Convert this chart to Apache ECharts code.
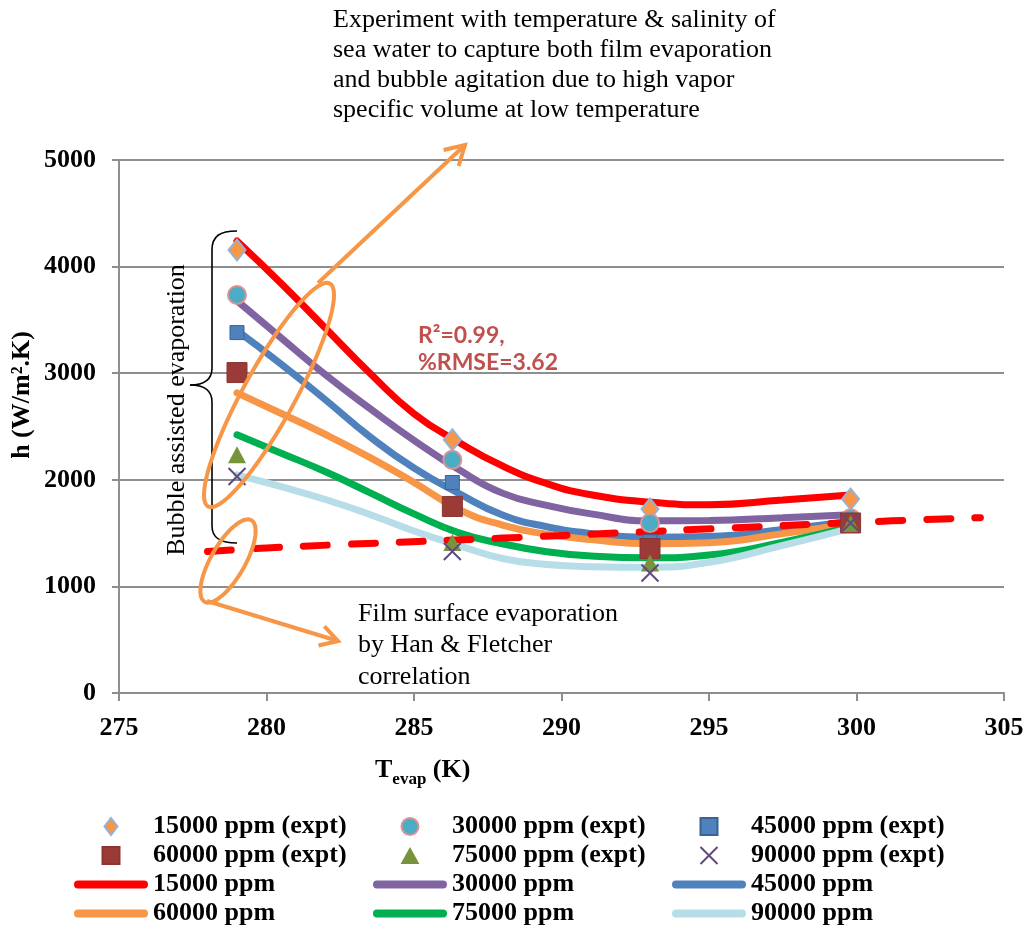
<!DOCTYPE html>
<html><head><meta charset="utf-8">
<script src="https://cdn.jsdelivr.net/npm/echarts@6/dist/echarts.min.js"></script>
<style>html,body{margin:0;padding:0;background:#fff}#c{width:1029px;height:928px}</style>
</head><body><div id="c"></div>
<script>
// ---------- data ----------
const xTicks = [275, 280, 285, 290, 295, 300, 305];
const yTicks = [0, 1000, 2000, 3000, 4000, 5000];

// experimental points
const exptT = [279, 286.3, 293, 299.8];
const expt15000 = [4156, 2375, 1725, 1820];
const expt30000 = [3734, 2187, 1594, 1640];
const expt45000 = [3381, 1975, 1420, 1610];
const expt60000 = [3006, 1750, 1355, 1595];
const expt75000 = [2234, 1412, 1219, 1590];
const expt90000 = [2031, 1328, 1125, 1595];

// model curves
const curveT = [279, 280.5, 282, 283.5, 285, 286.5, 288, 289.5, 291, 293, 295, 297.5, 299.8];
const fit15000 = [4240, 3842, 3422, 3002, 2620, 2355, 2130, 1965, 1860, 1790, 1766, 1810, 1858];
const fit30000 = [3680, 3330, 2985, 2670, 2370, 2098, 1875, 1760, 1680, 1615, 1618, 1645, 1672];
const fit45000 = [3400, 3085, 2750, 2405, 2110, 1875, 1670, 1560, 1497, 1462, 1468, 1533, 1612];
const fit60000 = [2815, 2622, 2425, 2210, 1975, 1725, 1575, 1490, 1440, 1400, 1410, 1495, 1590];
const fit75000 = [2422, 2250, 2075, 1880, 1680, 1505, 1400, 1325, 1285, 1268, 1295, 1415, 1560];
const fit90000 = [2047, 1935, 1815, 1675, 1520, 1385, 1262, 1205, 1185, 1180, 1225, 1385, 1545];

// Han & Fletcher film evaporation correlation (dashed)
const hanT = [278, 280, 282.3, 288, 291.8, 295.6, 301.2, 304.2];
const hanH = [1328, 1360, 1390, 1453, 1500, 1547, 1615, 1645];

const exptNames = ['15000 ppm (expt)', '30000 ppm (expt)', '45000 ppm (expt)', '60000 ppm (expt)', '75000 ppm (expt)', '90000 ppm (expt)'];
const fitNames = ['15000 ppm', '30000 ppm', '45000 ppm', '60000 ppm', '75000 ppm', '90000 ppm'];

// ---------- styling ----------
const SERIF = '"Liberation Serif","Times New Roman",serif';
const SANS = 'Lato,"Liberation Sans",Arial,sans-serif';
const ORANGE = '#F79646';
const pair = (xs, ys) => xs.map((x, i) => [x, ys[i]]);

const DIAMOND = 'path://M5,0L10,6.5L5,13L0,6.5Z';
const SQUARE = 'path://M0,0L10,0L10,10L0,10Z';
const TRIANGLE = 'path://M5,0L10,9L0,9Z';
const CROSS = 'path://M0,0L10,10M10,0L0,10';
const BAR = 'path://M4,0L70,0A4,4 0 0 1 70,8L4,8A4,4 0 0 1 4,0Z';

const exptData = [expt15000, expt30000, expt45000, expt60000, expt75000, expt90000];
const fitData = [fit15000, fit30000, fit45000, fit60000, fit75000, fit90000];
const fitColors = ['#FF0000', '#8064A2', '#4F81BD', '#F79646', '#00B050', '#B7DEE8'];
const exptStyles = [
  { symbol: DIAMOND, symbolSize: [17, 21], itemStyle: { color: '#F79646', borderColor: '#95B3D7', borderWidth: 2, opacity: 1 } },
  { symbol: 'circle', symbolSize: 18, itemStyle: { color: '#4BACC6', borderColor: '#D99594', borderWidth: 2, opacity: 1 } },
  { symbol: SQUARE, symbolSize: 14, itemStyle: { color: '#4F81BD', borderColor: '#3A6296', borderWidth: 1, opacity: 1 } },
  { symbol: SQUARE, symbolSize: 20, itemStyle: { color: '#9B3B38', borderColor: '#8C3532', borderWidth: 1, opacity: 1 } },
  { symbol: TRIANGLE, symbolSize: [18, 17], itemStyle: { color: '#77933C', borderWidth: 0, opacity: 1 } },
  { symbol: CROSS, symbolSize: 17, itemStyle: { color: '#604A7B', borderColor: '#604A7B', borderWidth: 2, opacity: 1 } }
];

const series = [];
fitData.forEach((ys, i) => {
  series.push({
    name: fitNames[i], type: 'line', data: pair(curveT, ys), smooth: 0.5,
    symbol: 'none', z: 2,
    lineStyle: { color: fitColors[i], width: 7, cap: 'round' },
    itemStyle: { color: fitColors[i] }
  });
});
series.push({
  name: 'Han & Fletcher', type: 'line', data: pair(hanT, hanH), smooth: 0.4,
  symbol: 'none', z: 3,
  lineStyle: { color: '#FF0000', width: 7, type: [24, 24], cap: 'round' }
});
exptData.forEach((ys, i) => {
  series.push(Object.assign({
    name: exptNames[i], type: 'scatter', data: pair(exptT, ys), z: 4
  }, exptStyles[i]));
});

const legendText = { fontFamily: SERIF, fontWeight: 'bold', fontSize: 26, color: '#000', lineHeight: 29 };
function mkLegend(left, names) {
  return {
    left: left, top: 812, orient: 'vertical', padding: 0, itemGap: 0,
    itemWidth: 74, itemHeight: 17, selectedMode: false,
    textStyle: legendText,
    data: names.map(n => fitNames.indexOf(n) >= 0 ? { name: n, icon: BAR, itemStyle: { borderWidth: 0 } } : { name: n })
  };
}

// outline points of a rotated ellipse annotation (decoration, not data)
function ellipsePts(cx, cy, a, b, rot) {
  const pts = [];
  for (let k = 0; k < 72; k++) {
    const t = k / 72 * Math.PI * 2;
    const ex = a * Math.cos(t), ey = b * Math.sin(t);
    pts.push([cx + ex * Math.cos(rot) - ey * Math.sin(rot), cy + ex * Math.sin(rot) + ey * Math.cos(rot)]);
  }
  return pts;
}
const annoLine = { stroke: ORANGE, lineWidth: 4, fill: null };

const chart = echarts.init(document.getElementById('c'), null, { renderer: 'canvas' });
chart.setOption({
  animation: false,
  backgroundColor: '#fff',
  grid: { left: 119, right: 25, top: 160, bottom: 235, containLabel: false, outerBoundsMode: 'none' },
  xAxis: {
    type: 'value', min: xTicks[0], max: xTicks[xTicks.length - 1], interval: 5,
    axisLine: { show: true, lineStyle: { color: '#8E8E8E', width: 2 } },
    axisTick: { show: true, length: 8, lineStyle: { color: '#8E8E8E', width: 2 } },
    axisLabel: { margin: 22, fontFamily: SERIF, fontWeight: 'bold', fontSize: 26, color: '#000', formatter: v => String(v) },
    splitLine: { show: false }
  },
  yAxis: {
    type: 'value', min: yTicks[0], max: yTicks[yTicks.length - 1], interval: 1000,
    axisLine: { show: true, lineStyle: { color: '#8E8E8E', width: 2 } },
    axisTick: { show: true, length: 7, lineStyle: { color: '#8E8E8E', width: 2 } },
    axisLabel: { margin: 23, fontFamily: SERIF, fontWeight: 'bold', fontSize: 26, color: '#000', formatter: v => String(v) },
    splitLine: { show: true, lineStyle: { color: '#8E8E8E', width: 2 } }
  },
  legend: [
    mkLegend(74, [exptNames[0], exptNames[3], fitNames[0], fitNames[3]]),
    mkLegend(373, [exptNames[1], exptNames[4], fitNames[1], fitNames[4]]),
    mkLegend(672, [exptNames[2], exptNames[5], fitNames[2], fitNames[5]])
  ],
  series: series,
  graphic: [
    // axis titles
    { type: 'text', x: 22, y: 395, rotation: Math.PI / 2, z: 10,
      style: { text: 'h (W/m².K)', fontFamily: SERIF, fontWeight: 'bold', fontSize: 26, fill: '#000', align: 'center', verticalAlign: 'middle' } },
    { type: 'text', x: 375, y: 770, z: 10,
      style: { text: '{a|T}{b|evap}{a| (K)}', verticalAlign: 'middle', align: 'left',
        rich: {
          a: { fontFamily: SERIF, fontWeight: 'bold', fontSize: 26, color: '#000', lineHeight: 36 },
          b: { fontFamily: SERIF, fontWeight: 'bold', fontSize: 17, color: '#000', lineHeight: 36, verticalAlign: 'bottom' }
        } } },
    // top annotation
    { type: 'text', x: 333, y: 5, z: 10,
      style: { text: 'Experiment with temperature & salinity of\nsea water to capture both film evaporation\nand bubble agitation due to high vapor\nspecific volume at low temperature',
        fontFamily: SERIF, fontSize: 26, lineHeight: 30, fill: '#000' } },
    // R2 annotation
    { type: 'text', x: 418, y: 322, z: 10,
      style: { text: 'R²=0.99,\n%RMSE=3.62', fontFamily: SANS, fontWeight: 'bold', fontSize: 23, lineHeight: 27, fill: '#C0504D' } },
    // film annotation
    { type: 'text', x: 358, y: 598, z: 10,
      style: { text: 'Film surface evaporation\nby Han & Fletcher\ncorrelation', fontFamily: SERIF, fontSize: 26, lineHeight: 31.5, fill: '#000' } },
    // vertical bubble text
    { type: 'text', x: 177, y: 410, rotation: Math.PI / 2, z: 10,
      style: { text: 'Bubble assisted evaporation', fontFamily: SERIF, fontSize: 26, fill: '#000', align: 'center', verticalAlign: 'middle' } },
    // brace
    { type: 'bezierCurve', z: 10, shape: { x1: 237, y1: 231, cpx1: 220, cpy1: 231, cpx2: 212, cpy2: 236, x2: 212, y2: 250 }, style: { stroke: '#000', lineWidth: 1.6, fill: null } },
    { type: 'line', z: 10, shape: { x1: 212, y1: 250, x2: 212, y2: 368 }, style: { stroke: '#000', lineWidth: 1.6 } },
    { type: 'bezierCurve', z: 10, shape: { x1: 212, y1: 368, cpx1: 212, cpy1: 379, cpx2: 205, cpy2: 385, x2: 190, y2: 385 }, style: { stroke: '#000', lineWidth: 1.6, fill: null } },
    { type: 'bezierCurve', z: 10, shape: { x1: 190, y1: 385, cpx1: 205, cpy1: 385, cpx2: 212, cpy2: 391, x2: 212, y2: 402 }, style: { stroke: '#000', lineWidth: 1.6, fill: null } },
    { type: 'line', z: 10, shape: { x1: 212, y1: 402, x2: 212, y2: 526 }, style: { stroke: '#000', lineWidth: 1.6 } },
    { type: 'bezierCurve', z: 10, shape: { x1: 212, y1: 526, cpx1: 212, cpy1: 538, cpx2: 220, cpy2: 543, x2: 237, y2: 543 }, style: { stroke: '#000', lineWidth: 1.6, fill: null } },
    // ellipses
    { type: 'polygon', z: 11, shape: { points: ellipsePts(269, 395, 26, 127, 0.50) }, style: annoLine },
    { type: 'polygon', z: 11, shape: { points: ellipsePts(228, 561, 17, 47, 0.52) }, style: annoLine },
    // arrows
    { type: 'polyline', z: 11, shape: { points: [[318, 283], [465, 145]] }, style: annoLine },
    { type: 'polyline', z: 11, shape: { points: [[443.6, 150], [465, 145], [458.6, 166]] }, style: annoLine },
    { type: 'polyline', z: 11, shape: { points: [[207, 601], [338, 641]] }, style: annoLine },
    { type: 'polyline', z: 11, shape: { points: [[324.4, 626.4], [338, 641], [318.5, 645.5]] }, style: annoLine }
  ]
});
</script></body></html>
